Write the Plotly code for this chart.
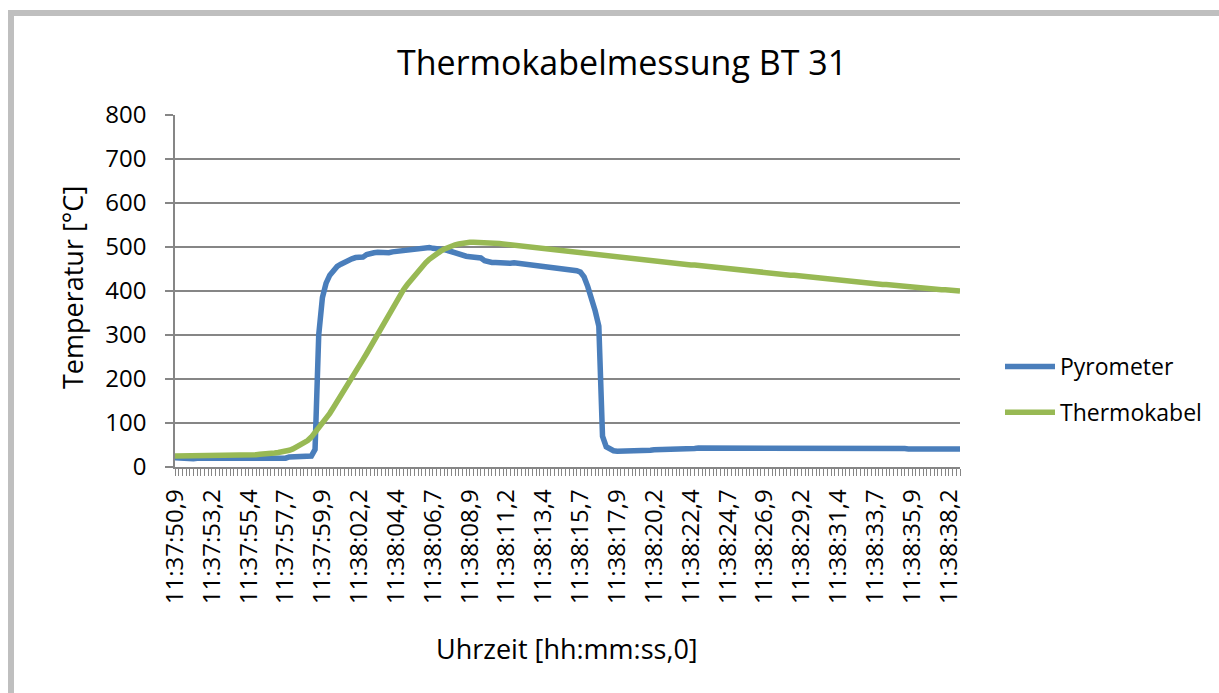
import plotly.graph_objects as go

# Sample index on the category axis (one reading every ~0.225 s)
sample_index = list(range(214))

# Labels shown on every 10th sample
tick_labels = [
    "11:37:50,9", "11:37:53,2", "11:37:55,4", "11:37:57,7", "11:37:59,9",
    "11:38:02,2", "11:38:04,4", "11:38:06,7", "11:38:08,9", "11:38:11,2",
    "11:38:13,4", "11:38:15,7", "11:38:17,9", "11:38:20,2", "11:38:22,4",
    "11:38:24,7", "11:38:26,9", "11:38:29,2", "11:38:31,4", "11:38:33,7",
    "11:38:35,9", "11:38:38,2",
]
tick_positions = [i * 10 for i in range(len(tick_labels))]

pyrometer = [
    21, 20, 20, 21, 20, 19, 20, 20, 21, 20, 20, 19, 20, 21, 20, 20, 20, 19, 20, 21,
    20, 20, 19, 20, 20, 21, 20, 19, 20, 20, 20, 23, 23, 22, 23, 23, 22, 25, 40, 300,
    385, 418, 436, 448, 456, 461, 466, 470, 473, 476, 477, 477, 483, 486, 487, 488, 487, 488, 487, 489,
    490, 491, 493, 493, 494, 496, 498, 500, 501, 499, 497, 497, 496, 494, 492, 489, 486, 482, 480, 479,
    478, 478, 478, 475, 469, 466, 465, 465, 464, 464, 464, 463, 464, 463, 462, 462, 461, 460, 459, 457,
    457, 456, 454, 453, 452, 451, 451, 450, 448, 446, 443, 432, 410, 385, 355, 320, 70, 46, 40, 37,
    36, 36, 35, 35, 36, 36, 37, 37, 38, 38, 39, 39, 40, 40, 40, 41, 41, 41, 42, 42,
    42, 42, 43, 43, 43, 43, 43, 43, 43, 43, 44, 44, 44, 44, 45, 45, 44, 44, 44, 44,
    44, 43, 43, 43, 43, 43, 43, 43, 43, 43, 43, 43, 43, 42, 42, 42, 42, 42, 43, 43,
    43, 43, 43, 43, 44, 44, 44, 43, 43, 43, 43, 44, 44, 44, 44, 44, 43, 42, 42, 41,
    41, 41, 42, 42, 41, 41, 41, 42, 42, 42, 41, 41, 41, 41,
]

thermokabel = [
    25, 25, 25, 25, 25, 25, 26, 26, 26, 26, 26, 26, 26, 26, 26, 26, 26, 27, 27, 27,
    27, 28, 28, 29, 29, 30, 31, 32, 33, 34, 36, 38, 41, 45, 49, 54, 60, 68, 78, 89,
    100, 111, 122, 135, 148, 161, 174, 188, 202, 216, 230, 244, 258, 273, 288, 303, 318, 333, 348, 364,
    378, 391, 403, 414, 425, 436, 446, 455, 464, 472, 479, 485, 490, 495, 499, 502, 505, 507, 509, 510,
    511, 511, 511, 511, 511, 510, 510, 509, 508, 507, 506, 505, 504, 503, 502, 501, 500, 499, 498, 497,
    496, 495, 494, 493, 492, 491, 490, 489, 488, 487, 486, 485, 485, 484, 483, 482, 481, 480, 479, 478,
    477, 476, 475, 474, 473, 472, 472, 471, 470, 469, 468, 467, 466, 465, 464, 464, 463, 462, 461, 460,
    459, 459, 458, 457, 456, 455, 455, 454, 453, 452, 451, 450, 450, 449, 448, 447, 446, 445, 444, 443,
    442, 441, 441, 440, 439, 438, 437, 436, 436, 435, 434, 433, 432, 431, 431, 430, 429, 428, 427, 426,
    426, 425, 424, 423, 422, 421, 420, 419, 418, 418, 417, 416, 415, 415, 414, 413, 412, 412, 411, 410,
    409, 409, 408, 407, 406, 406, 405, 404, 403, 403, 402, 401, 401, 400,
]

W, H = 1219, 693
L, R, T, B = 175, 960, 115, 467  # plot area in pixels
FONT = "Open Sans"
GRID = "#868686"


def px(x):
    return (x - L) / (R - L)


def py(y):
    return (B - y) / (B - T)


fig = go.Figure()
fig.add_trace(go.Scatter(
    x=sample_index, y=pyrometer, mode="lines", name="Pyrometer",
    line=dict(color="#4A7EBB", width=5.5), legendgroup="a",
))
fig.add_trace(go.Scatter(
    x=sample_index, y=thermokabel, mode="lines", name="Thermokabel",
    line=dict(color="#98B954", width=5.5), legendgroup="b",
))

fig.update_layout(
    width=W, height=H,
    margin=dict(l=L, r=W - R, t=T, b=H - B, pad=0),
    paper_bgcolor="white", plot_bgcolor="white",
    font=dict(family=FONT, size=24, color="#000000"),
    showlegend=True,
    legend=dict(
        x=px(1000), y=py(345), xanchor="left", yanchor="top",
        font=dict(size=23), tracegroupgap=13, itemwidth=50,
        bgcolor="rgba(0,0,0,0)",
    ),
    xaxis=dict(
        range=[0, 213], showgrid=False, zeroline=False,
        showline=True, linecolor=GRID, linewidth=1.5,
        tickmode="array", tickvals=tick_positions, ticktext=tick_labels,
        tickangle=-90, ticks="outside", ticklen=7, tickcolor=GRID, tickwidth=1,
        ticklabelstandoff=4, tickfont=dict(size=24),
        minor=dict(tickmode="linear", tick0=0, dtick=1, ticks="outside",
                   ticklen=7, tickcolor=GRID, tickwidth=1),
    ),
    yaxis=dict(
        range=[0, 800], dtick=100, showgrid=True, gridcolor=GRID, gridwidth=1.5,
        zeroline=False, showline=True, linecolor=GRID, linewidth=1.5,
        ticks="outside", ticklen=8, tickcolor=GRID, tickwidth=1.5,
        ticklabelstandoff=14, tickfont=dict(size=24),
    ),
    annotations=[
        dict(text="Thermokabelmessung BT 31", xref="paper", yref="paper",
             x=px(622), y=py(62), xanchor="center", yanchor="middle",
             showarrow=False, font=dict(size=34)),
        dict(text="Temperatur [°C]", xref="paper", yref="paper",
             x=px(72), y=py(288), xanchor="center", yanchor="middle",
             textangle=-90, showarrow=False, font=dict(size=27)),
        dict(text="Uhrzeit [hh:mm:ss,0]", xref="paper", yref="paper",
             x=px(567), y=py(648), xanchor="center", yanchor="middle",
             showarrow=False, font=dict(size=27)),
    ],
    shapes=[
        dict(type="rect", xref="paper", yref="paper",
             x0=px(8), x1=px(14), y0=py(H), y1=py(10),
             fillcolor="#BFBFBF", line=dict(width=0), layer="above"),
        dict(type="rect", xref="paper", yref="paper",
             x0=px(8), x1=px(W), y0=py(16), y1=py(10),
             fillcolor="#BFBFBF", line=dict(width=0), layer="above"),
    ],
)

fig.write_html("out.html")
